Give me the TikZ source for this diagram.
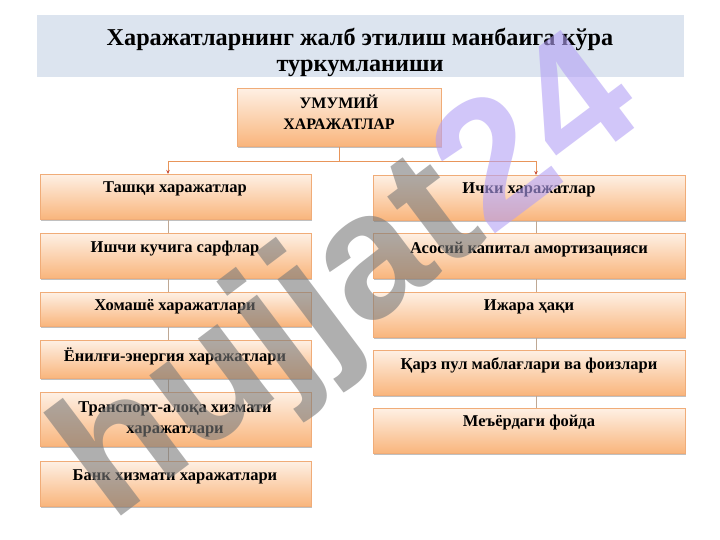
\documentclass[tikz,border=0pt]{standalone}
\usepackage{fontspec}
\setmainfont{Liberation Serif}
\newfontfamily\wmfont{Liberation Sans}
\usetikzlibrary{shadows,arrows.meta}
\definecolor{bandc}{HTML}{DCE4EF}
\definecolor{boxtop}{HTML}{FEF0E4}
\definecolor{boxbot}{HTML}{F9B57C}
\definecolor{boxline}{HTML}{F0AC78}
\definecolor{conn}{HTML}{E8955A}
\definecolor{tipc}{HTML}{C8503A}
\definecolor{chain}{HTML}{BFA894}
\definecolor{wmgray}{HTML}{7A7A7A}
\definecolor{wmlav}{HTML}{B3A0F5}
\begin{document}
\begin{tikzpicture}[x=1pt,y=-1pt,
  box/.style={draw=boxline, line width=0.6pt, top color=boxtop, bottom color=boxbot,
    inner sep=0pt, anchor=north west,
    drop shadow={shadow xshift=0.4pt, shadow yshift=-1.4pt, opacity=0.35, fill=black!70}},
  lbl/.style={font=\fontsize{16.5}{21}\selectfont\bfseries, align=center, inner sep=0pt},
  link/.style={draw=conn, line width=0.8pt},
  chainline/.style={draw=chain, line width=0.6pt},
  tip/.style={-{Stealth[length=4pt,width=3.5pt,color=tipc]}}
]
\useasboundingbox (0,0) rectangle (720,540);
\fill[white] (0,0) rectangle (720,540);

% title band
\node[fill=bandc, minimum width=647pt, minimum height=62pt, inner sep=0pt, anchor=north west] (band) at (37,15) {};
\node[font=\fontsize{24.2}{26}\selectfont\bfseries, align=center, inner sep=0pt] (title) at (360,52)
  {Харажатларнинг жалб этилиш манбаига кўра\\туркумланиши};

% top box
\node[box, minimum width=204pt, minimum height=58pt] (top) at (237,88) {};
\node[font=\fontsize{16}{21}\selectfont\bfseries, align=center, inner sep=0pt] (toptxt) at (339,112) {УМУМИЙ\\ХАРАЖАТЛАР};

% left column
\node[box, minimum width=271pt, minimum height=45pt] (L1) at (40,174) {};
\node[box, minimum width=271pt, minimum height=45pt] (L2) at (40,233) {};
\node[box, minimum width=271pt, minimum height=34pt] (L3) at (40,292) {};
\node[box, minimum width=271pt, minimum height=38pt] (L4) at (40,340) {};
\node[box, minimum width=271pt, minimum height=54pt] (L5) at (40,392) {};
\node[box, minimum width=271pt, minimum height=45pt] (L6) at (40,461) {};
\node[lbl] (t1) at (175,189) {Ташқи харажатлар};
\node[lbl] (t2) at (175,249) {Ишчи кучига сарфлар};
\node[lbl] (t3) at (175,307) {Хомашё харажатлари};
\node[lbl] (t4) at (175,356) {Ёнилғи-энергия харажатлари};
\node[lbl] (t5) at (175,419) {Транспорт-алоқа хизмати\\харажатлари};
\node[lbl] (t6) at (175,477) {Банк хизмати харажатлари};

% right column
\node[box, minimum width=312pt, minimum height=45pt] (R1) at (373,175) {};
\node[box, minimum width=312pt, minimum height=45pt] (R2) at (373,233) {};
\node[box, minimum width=312pt, minimum height=45pt] (R3) at (373,292) {};
\node[box, minimum width=312pt, minimum height=45pt] (R4) at (373,350) {};
\node[box, minimum width=312pt, minimum height=45pt] (R5) at (373,408) {};
\node[lbl] (s1) at (529,190) {Ички харажатлар};
\node[lbl] (s2) at (529,250) {Асосий капитал амортизацияси};
\node[lbl] (s3) at (529,307) {Ижара ҳақи};
\node[lbl] (s4) at (529,365) {Қарз пул маблағлари ва фоизлари};
\node[lbl] (s5) at (529,423) {Меъёрдаги фойда};

% connectors
\coordinate (lx) at (168,0);
\coordinate (rx) at (536,0);
\coordinate (hy) at (0,161);
\draw[link] (top.south) -- (top.south |- hy);
\draw[link] (lx |- hy) -- (rx |- hy);
\draw[link,tip] (lx |- hy) -- (L1.north -| lx);
\draw[link,tip] (rx |- hy) -- (R1.north -| rx);
\foreach \a/\b in {L1/L2,L2/L3,L3/L4,L4/L5,L5/L6}
  \draw[chainline] (\a.south -| lx) -- (\b.north -| lx);
\foreach \a/\b in {R1/R2,R2/R3,R3/R4,R4/R5}
  \draw[chainline] (\a.south -| rx) -- (\b.north -| rx);

% watermark
\node[rotate=37, font=\wmfont\bfseries\fontsize{178}{178}\selectfont, text=wmgray, text opacity=0.6, inner sep=0pt] (wm) at (352,284)
  {hujjat\textcolor{wmlav}{24}};
\end{tikzpicture}
\end{document}
